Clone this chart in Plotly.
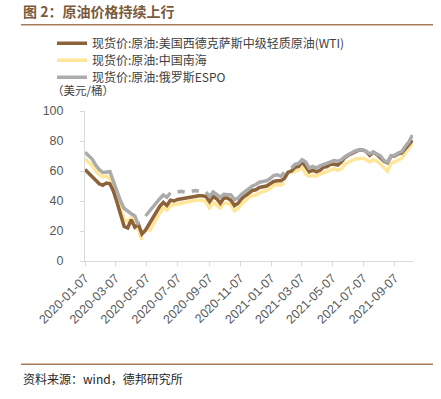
import pandas as pd
import plotly.graph_objects as go

# Weekly observation dates (every 7 days from 2020-01-07 to 2021-10-12)
dates = pd.date_range("2020-01-07", "2021-10-12", freq="7D")

wti = [61, 58.5, 56.5, 53.5, 51.5, 50.5, 52, 51.5, 46.5, 39,
       30, 23, 22, 27.5, 22.5, 24.5, 18, 20.5, 24.5, 28.5,
       33, 36.5, 39, 37, 40.5, 40, 41, 41.5, 42, 42,
       42.5, 43, 43.5, 43.5, 43, 39.5, 43, 41.5, 38.5, 42,
       42, 40.5, 37, 38.5, 41.5, 43.5, 45.5, 47, 47.5, 49,
       49.5, 50, 51.5, 53, 53.5, 53.5, 55, 59, 60, 62.5,
       63, 66, 63, 59.5, 60.5, 59.5, 60.5, 62.5, 63, 64.5,
       64.5, 64, 66, 69, 70.5, 71.5, 73, 74, 74, 73,
       70.5, 72.5, 71, 69, 66.5, 65.5, 70, 70, 71.5, 72,
       75, 78, 80.5]

nanhai = [68, 66, 63.5, 60, 57.5, 56, 56.5, 55, 50, 43,
          34, 28, 26, 29, 24, 21, 14, None, 19.5, 24,
          28, 32, 35.5, 34, 37, 37.5, 38.5, 39, 39.5, 39.5,
          40, 40.5, 40.5, 40.5, 39.5, 35.5, 39, 37, 35.5, 38.5,
          38.5, 37.5, 33.5, 35, 38, 40, 42.5, 43.5, 44, 45.5,
          46, 47, 48.5, 50.5, 51, 50.5, 52, None, 58.5, 60,
          60.5, 62.5, 58, 56.5, 57, 56.5, 58, 59, 59.5, 61,
          61.5, 60.5, 61.5, 64.5, 66, 67, 68, 68.5, 68.5, 67.5,
          66, 67.5, 66.5, 64.5, 62, 60, 65, 66, 67.5, 68.5,
          72, 75.5, 78.5]

espo = [72.5, 70.5, 68, 64, 61, 59, 59, 59.5, 53, 46,
        40, 35, 33, 31.5, 30, 24, None, 30, 33, 36,
        39, 41.5, 44, 42.5, 45.5, None, 46, 46.5, 46, None,
        46.5, 47, 46.5, None, 46, 43, 46, 44, 42.5, 44.5,
        44.5, 44, 41, 42, 44.5, 46.5, 48.5, 50, 51, 52.5,
        53, 53.5, 55, 57, 57.5, 56.5, 59, None, 62, 64.5,
        65, 67.5, 66, 62, 63, 62, 63.5, 64.5, 65, 66.5,
        67, 66.5, 67.5, 69.5, 71, 72, 73.5, 74, 74, 73,
        71.5, 72.5, 71.5, 70, 67, 66, 70, 70.5, 72, 73,
        76.5, 79.5, 84]

names = ["现货价:原油:美国西德克萨斯中级轻质原油(WTI)",
         "现货价:原油:中国南海",
         "现货价:原油:俄罗斯ESPO"]
colors = ["#8C6239", "#FFE699", "#ABABAB"]

tick_vals = ["2020-01-07", "2020-03-07", "2020-05-07", "2020-07-07",
             "2020-09-07", "2020-11-07", "2021-01-07", "2021-03-07",
             "2021-05-07", "2021-07-07", "2021-09-07"]
y_ticks = [0, 20, 40, 60, 80, 100]

fig = go.Figure()
series = [(nanhai, 1, "legend2"), (wti, 0, "legend"), (espo, 2, "legend3")]
for vals, idx, lg in series:
    fig.add_trace(go.Scatter(
        x=dates, y=vals, mode="lines", name=names[idx],
        line=dict(color=colors[idx], width=3.5),
        connectgaps=False, legend=lg, hoverinfo="skip"))

# reference pixel -> paper coordinates (plot area 328 x 150 px)
def px(x):
    return (x - 85) / 328


def py(y):
    return (260.7 - y) / 150


cjk = "Noto Sans CJK SC"
lg_common = dict(xanchor="left", yanchor="middle", bgcolor="rgba(0,0,0,0)",
                 borderwidth=0, font=dict(family=cjk, size=12, color="#404040"),
                 itemwidth=30)
x_leg = px(52)

fig.update_layout(
    width=441, height=399, autosize=False,
    margin=dict(l=85, r=28, t=111, b=138, pad=0),
    paper_bgcolor="white", plot_bgcolor="white",
    showlegend=True,
    legend=dict(x=x_leg, y=py(43), **lg_common),
    legend2=dict(x=x_leg, y=py(60), **lg_common),
    legend3=dict(x=x_leg, y=py(77), **lg_common),
    xaxis=dict(
        type="date", range=["2020-01-07", "2021-10-13"],
        tickvals=tick_vals, ticktext=tick_vals, tickangle=-45,
        showline=True, linecolor="#D9D9D9", linewidth=1,
        ticks="outside", ticklen=4, tickcolor="#D9D9D9",
        showgrid=False, zeroline=False,
        tickfont=dict(family="Liberation Sans", size=12.5, color="#595959")),
    yaxis=dict(
        range=[0, 100], tickvals=y_ticks,
        showline=True, linecolor="#D9D9D9", linewidth=1,
        ticks="outside", ticklen=4, tickcolor="#D9D9D9",
        showgrid=False, zeroline=False, ticklabelstandoff=14,
        tickfont=dict(family="Liberation Sans", size=12.5, color="#595959")),
    annotations=[
        dict(text="<b>图 2：原油价格持续上行</b>", xref="paper", yref="paper",
             x=px(21), y=py(11), xanchor="left", yanchor="middle",
             showarrow=False, font=dict(family=cjk, size=14, color="#7B5A3C")),
        dict(text="（美元/桶）", xref="paper", yref="paper",
             x=px(50), y=py(90), xanchor="left", yanchor="middle",
             showarrow=False, font=dict(family=cjk, size=11.5, color="#404040")),
        dict(text="资料来源：wind，德邦研究所", xref="paper", yref="paper",
             x=px(21), y=py(378), xanchor="left", yanchor="middle",
             showarrow=False, font=dict(family=cjk, size=12, color="#262626")),
    ],
    shapes=[
        dict(type="line", xref="paper", yref="paper",
             x0=px(21), x1=px(433), y0=py(24.5), y1=py(24.5),
             line=dict(color="#A67B5B", width=1.5)),
        dict(type="line", xref="paper", yref="paper",
             x0=px(21), x1=px(433), y0=py(364), y1=py(364),
             line=dict(color="#A67B5B", width=1.5)),
    ],
)

# remove the default 8px page margin so the figure fills the window exactly
fig.write_html("out.html", config={"displayModeBar": False, "staticPlot": True},
               post_script="document.body.style.margin='0px';")
